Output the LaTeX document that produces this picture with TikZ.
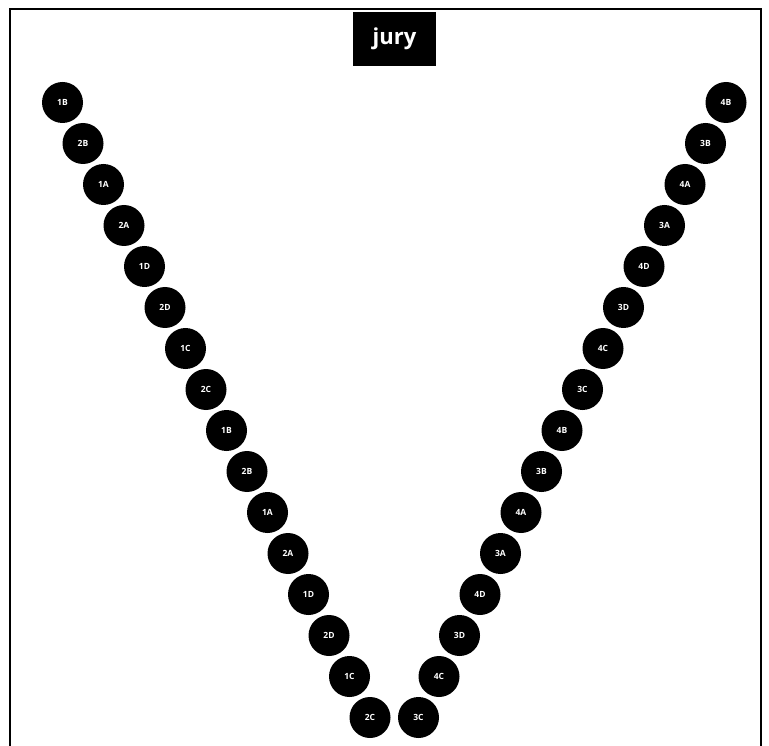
\documentclass[tikz,border=0pt]{standalone}
\usepackage{fontspec}
\setmainfont{Open Sans}
\usetikzlibrary{positioning}

\begin{document}
\begin{tikzpicture}[
    x=1pt, y=-1pt,
    seat/.style={
        circle,
        fill=black,
        text=white,
        minimum size=41pt,
        inner sep=0pt,
        font=\fontsize{8.5}{9}\selectfont\bfseries
    },
    title/.style={
        rectangle,
        fill=black,
        text=white,
        minimum width=83pt,
        minimum height=54pt,
        inner sep=0pt,
        font=\fontsize{22}{24}\selectfont\bfseries
    },
    frame/.style={
        draw,
        line width=2pt
    }
]
    \useasboundingbox (0,0) rectangle (769,746);

    % --- Frame (open at the bottom) ---
    \coordinate (fbl) at (10,747);
    \coordinate (ftl) at (10,9);
    \coordinate (ftr) at (761,9);
    \coordinate (fbr) at (761,747);
    \path [frame] (fbl) -- (ftl) -- (ftr) -- (fbr);

    % --- Title ---
    \node [title] (jury) at (394.5,39) {jury};

    % --- Left row of seats ---
    \foreach \lab [count=\i] in {1B,2B,1A,2A,1D,2D,1C,2C,1B,2B,1A,2A,1D,2D,1C,2C}
        \node [seat] (left\i) at ({62.5+(\i-1)*20.5},{102.5+(\i-1)*41}) {\lab};

    % --- Right row of seats ---
    \foreach \lab [count=\i] in {4B,3B,4A,3A,4D,3D,4C,3C,4B,3B,4A,3A,4D,3D,4C,3C}
        \node [seat] (right\i) at ({726-(\i-1)*20.5},{102.5+(\i-1)*41}) {\lab};

\end{tikzpicture}
\end{document}
